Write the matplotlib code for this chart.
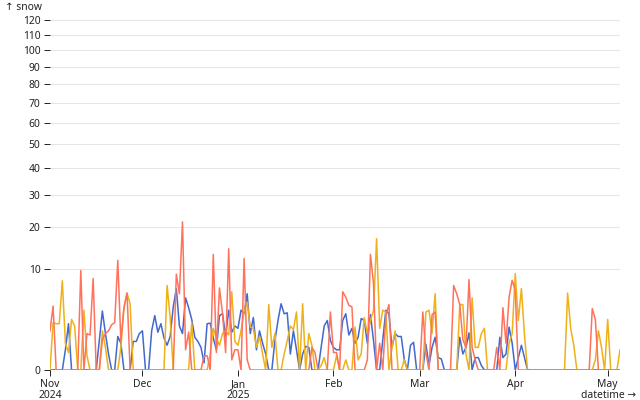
import matplotlib
matplotlib.use("Agg")
import matplotlib.pyplot as plt
import numpy as np
import pandas as pd

plt.rcParams['font.family'] = ['Noto Sans', 'DejaVu Sans']

start_date = "2024-11-01"

snow_blue = [
    0, 0, 0, 0, 0, 0.4, 2.1, 0, 0, 0,
    0, 0, 0, 0, 0, 0, 0.85, 3.4, 1.3, 0.25,
    0, 0, 1.1, 0.7, 0, 0, 0, 0.8, 0.8, 1.3,
    1.5, 0, 0, 1.5, 2.9, 1.4, 2.1, 1.0, 0.6, 1.1,
    3.9, 6.5, 1.9, 1.3, 5.1, 3.8, 2.5, 1.05, 0.8, 0.5,
    0.05, 2.1, 2.15, 1.0, 0.4, 2.9, 3.1, 1.1, 3.5, 1.4,
    1.9, 1.7, 3.5, 3.1, 5.7, 1.3, 2.7, 0.4, 1.5, 0.7,
    0.25, 0, 0, 0.85, 2.4, 4.3, 3.1, 3.2, 0.25, 1.5,
    0.4, 0, 0.25, 0.55, 0.5, 0, 0, 0, 0.5, 1.9,
    2.4, 0.85, 0.5, 0.4, 0.4, 2.4, 3.1, 1.2, 1.7, 0.7,
    1.05, 2.6, 2.4, 0.7, 3.0, 0.85, 0, 0, 0.85, 3.5,
    3.1, 0.5, 1.3, 1.1, 1.1, 0.1, 0, 0.6, 0.75, 0,
    0, 0, 0.65, 0.02, 0.5, 1.05, 0.15, 0.12, 0, 0,
    0, 0, 0, 1.05, 0.25, 0.5, 1.35, 0, 0.15, 0.15,
    0.02, 0, 0, 0, 0, 0, 1.05, 0.15, 0.25, 1.8,
    0.7, 0, 0.15, 0.6, 0.15, 0, 0, 0, 0, 0,
    0, 0, 0, 0, 0, 0, 0, 0, 0, 0,
    0, 0, 0, 0, 0, 0, 0, 0, 0, 0,
    0, 0, 0, 0, 0, 0,
]

snow_yellow = [
    0, 2.2, 2.1, 2.1, 7.8, 0.7, 0.3, 2.5, 1.9, 0,
    0, 3.5, 0.2, 0, 0, 0, 0, 1.5, 0.5, 0,
    0, 0, 0, 0.5, 3.8, 5.8, 4.3, 0, 0, 0,
    0, 0, 0, 0, 0, 0, 0, 0, 7.0, 2.7,
    0, 0, 0, 0, 0, 0, 2.2, 0, 0, 0,
    0, 0, 0.25, 1.7, 1.0, 0.6, 1.3, 1.5, 1.2, 6.0,
    0.8, 0.6, 1.5, 3.3, 4.5, 1.8, 1.7, 0.5, 1.1, 0.25,
    0, 4.2, 0.5, 1.3, 0, 0, 0.25, 0.85, 1.9, 1.6,
    3.3, 0, 4.3, 0, 1.3, 0.6, 0, 0, 0.02, 0.15,
    0, 0, 0, 0.2, 0, 0, 0.1, 0, 0, 1.8,
    0.1, 0.25, 2.7, 1.3, 2.4, 3.5, 16.9, 1.7, 3.5, 3.3,
    0, 0.5, 1.5, 0, 0, 0.1, 0, 0, 0, 0,
    0, 0, 3.3, 3.5, 1.3, 5.7, 0, 0, 0, 0,
    0, 0, 0, 4.2, 4.2, 0.25, 0, 5.1, 0.5, 0.5,
    1.3, 1.7, 0, 0, 0, 0, 0, 0, 0, 0.7,
    1.3, 9.1, 2.4, 6.5, 1.2, 0, 0, 0, 0, 0,
    0, 0, 0, 0, 0, 0, 0, 0, 5.8, 1.7,
    0.6, 0, 0, 0, 0, 0, 0, 0.1, 1.5, 0.5,
    0, 2.5, 0, 0, 0, 0.4,
]

snow_red = [
    1.5, 4.0, 0, 0, 0, 0, 0, 0, 0, 0,
    9.7, 0, 1.3, 1.2, 8.2, 0, 0, 0.9, 1.3, 1.5,
    2.0, 2.2, 11.8, 0.8, 3.8, 5.8, 0, 0, 0, 0,
    0, 0, 0, 0, 0, 0, 0, 0, 0, 0,
    0, 9.0, 5.7, 21.5, 0.4, 1.4, 0, 0, 0, 0,
    0.2, 0.2, 0, 13.1, 0.3, 6.6, 3.1, 0.3, 14.4, 0.1,
    0.4, 0.4, 0, 12.2, 0.1, 0, 0, 0, 0, 0,
    0, 0, 0, 0, 0, 0, 0, 0, 0, 0,
    0, 0, 0, 0, 0, 0.5, 0.3, 0, 0, 0,
    0, 3.3, 0.3, 0.3, 0, 6.0, 5.2, 4.1, 3.9, 0,
    0, 0, 0, 0.1, 13.1, 7.3, 0, 0.7, 0, 2.9,
    4.2, 0, 0, 0, 0, 0, 0, 0, 0, 0,
    0, 3.3, 0.3, 0, 3.0, 3.3, 0, 0, 0, 0,
    0, 7.0, 5.7, 4.2, 0.9, 0.5, 8.0, 0.5, 0.1, 0,
    0, 0, 0, 0, 0, 0.5, 0, 3.8, 0.7, 5.2,
    7.9, 6.2, 0, 0, 0, 0, 0, 0, 0, 0,
    0, 0, 0, 0, 0, 0, 0, 0, 0, 0,
    0, 0, 0, 0, 0, 0, 3.7, 2.5, 0, 0,
    0, 0, 0, 0, 0, 0,
]

y_ticks = [0, 10, 20, 30, 40, 50, 60, 70, 80, 90, 100, 110, 120]
x_tick_dates = ["2024-11-01", "2024-12-01", "2025-01-01", "2025-02-01",
                "2025-03-01", "2025-04-01", "2025-05-01"]
x_tick_labels = ["Nov\n2024", "Dec", "Jan\n2025", "Feb", "Mar", "Apr", "May"]

dates = pd.date_range(start_date, periods=len(snow_blue), freq="D")

fig = plt.figure(figsize=(6.4, 4.0), dpi=100)
ax = fig.add_axes([50/640, 30/400, 570/640, 350/400])
ax.set_yscale('function', functions=(lambda v: np.sqrt(np.clip(v, 0, None)), lambda v: v**2))

for series, color in [(snow_blue, "#4269d0"), (snow_yellow, "#efb118"), (snow_red, "#ff725c")]:
    ax.plot(dates, series, color=color, lw=1.1, solid_joinstyle='round', zorder=3)

ax.set_ylim(0, 120)
ax.set_xlim(dates[0], dates[-1])
ax.set_yticks(y_ticks)
ax.set_yticklabels([str(t) for t in y_ticks])
ax.set_xticks(pd.to_datetime(x_tick_dates))
ax.set_xticklabels(x_tick_labels)
for t in y_ticks:
    ax.axhline(t, color="#e6e6e6", lw=0.75, zorder=1)

for s in ax.spines.values():
    s.set_visible(False)
ax.tick_params(axis='y', length=4.3, width=0.7, pad=2.5, labelsize=7.4, color='#222222', labelcolor='#222222')
ax.tick_params(axis='x', length=4.3, width=0.7, pad=2, labelsize=7.4, color='#222222', labelcolor='#222222')
for lab in ax.get_xticklabels():
    lab.set_linespacing(1.05)

fig.text(5/640, 1 - 7/400, "↑ snow", fontsize=7.4, ha='left', va='center', color='#222222')
fig.text(636/640, 1 - 395/400, "datetime →", fontsize=7.4, ha='right', va='center', color='#222222')

fig.savefig("out.png", dpi=100)
